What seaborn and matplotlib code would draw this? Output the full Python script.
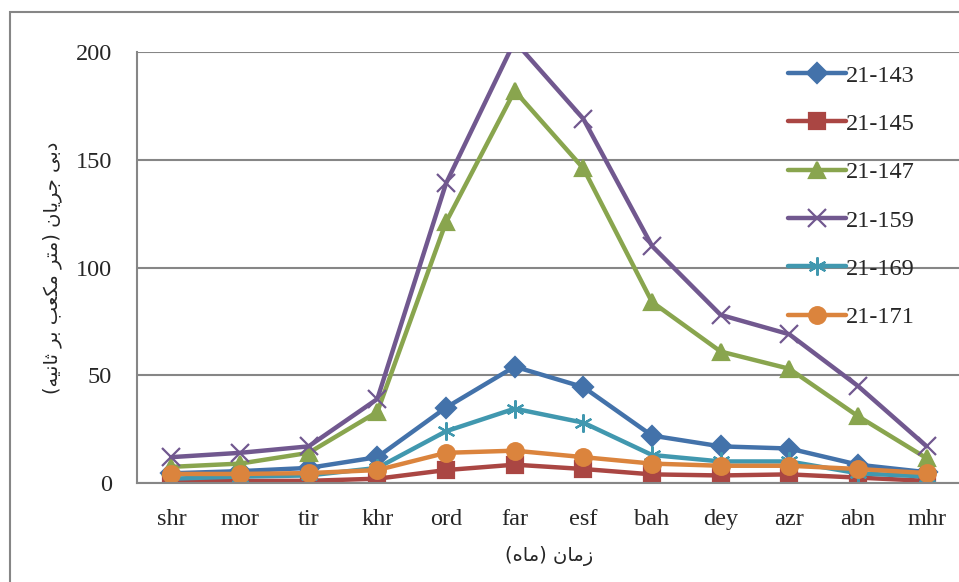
import numpy as np
import pandas as pd
import matplotlib
matplotlib.use("Agg")
import matplotlib.pyplot as plt
from matplotlib.patches import Rectangle
import seaborn as sns

# data
months = ['shr', 'mor', 'tir', 'khr', 'ord', 'far', 'esf', 'bah', 'dey', 'azr', 'abn', 'mhr']
s_143 = [4.5, 5.5, 7, 12, 35, 54, 44.5, 22, 17, 16, 8.5, 5]
s_145 = [1, 1, 1, 2, 6, 8.5, 6.5, 4, 3.5, 4, 2.5, 1]
s_147 = [7.5, 9, 14, 33, 121, 182, 146, 84, 61, 53, 31, 11.5]
s_159 = [12, 14, 17, 39, 139, 205, 169, 110, 78, 69, 45, 17]
s_169 = [2, 3, 3.5, 7, 24, 34.5, 28, 13, 10, 10, 4.5, 3]
s_171 = [4.2, 4.2, 4.6, 6, 14, 15, 12, 9, 8, 8, 6.5, 4.6]
names = ['21-143', '21-145', '21-147', '21-159', '21-169', '21-171']
ylabel_fa = 'دبی جریان (متر مکعب بر ثانیه)'
xlabel_fa = 'زمان (ماه)'

# matplotlib does no arabic shaping, so map letters to presentation forms
FORMS = {  # iso, fin, ini, med
    'ا': ('\uFE8D', '\uFE8E', None, None),
    'ب': ('\uFE8F', '\uFE90', '\uFE91', '\uFE92'),
    'ت': ('\uFE95', '\uFE96', '\uFE97', '\uFE98'),
    'ث': ('\uFE99', '\uFE9A', '\uFE9B', '\uFE9C'),
    'ج': ('\uFE9D', '\uFE9E', '\uFE9F', '\uFEA0'),
    'د': ('\uFEA9', '\uFEAA', None, None),
    'ر': ('\uFEAD', '\uFEAE', None, None),
    'ز': ('\uFEAF', '\uFEB0', None, None),
    'ع': ('\uFEC9', '\uFECA', '\uFECB', '\uFECC'),
    'م': ('\uFEE1', '\uFEE2', '\uFEE3', '\uFEE4'),
    'ن': ('\uFEE5', '\uFEE6', '\uFEE7', '\uFEE8'),
    'ه': ('\uFEE9', '\uFEEA', '\uFEEB', '\uFEEC'),
    'ی': ('\uFBFC', '\uFBFD', '\uFBFE', '\uFBFF'),
    'ک': ('\uFB8E', '\uFB8F', '\uFB90', '\uFB91'),
}


def shape_fa(text):
    out = []
    for i, ch in enumerate(text):
        if ch not in FORMS:
            out.append(ch)
            continue
        prev = text[i - 1] if i > 0 else ''
        nxt = text[i + 1] if i + 1 < len(text) else ''
        join_prev = prev in FORMS and FORMS[prev][2] is not None
        join_next = nxt in FORMS and FORMS[ch][2] is not None
        iso, fin, ini, med = FORMS[ch]
        if join_prev and join_next:
            out.append(med)
        elif join_prev:
            out.append(fin)
        elif join_next:
            out.append(ini)
        else:
            out.append(iso)
    vis = ''.join(reversed(out))
    return vis.translate(str.maketrans('()', ')('))


df = pd.DataFrame({'month': months * 6,
                   'flow': s_143 + s_145 + s_147 + s_159 + s_169 + s_171,
                   'station': np.repeat(names, len(months))})

colors = ['#4372AA', '#AA4643', '#89A54E', '#71588F', '#4198AF', '#DB843D']
markers = ['D', 's', '^', 'x', (6, 2, 0), 'o']
msizes = [10, 11, 12, 13, 13, 12]

sns.set_style('white')
plt.rcParams['font.family'] = ['Liberation Serif', 'DejaVu Sans']

fig = plt.figure(figsize=(9.59, 5.82), dpi=100)
ax = fig.add_axes([137 / 959, 99 / 582, 824 / 959, 431 / 582])

for name, c, m, ms in zip(names, colors, markers, msizes):
    d = df[df['station'] == name]
    sns.lineplot(data=d, x='month', y='flow', ax=ax, color=c, lw=3.2,
                 marker=m, markersize=ms, markeredgecolor=c, markerfacecolor=c,
                 markeredgewidth=1.6, label=name, sort=False)

ax.set_ylim(0, 200)
ax.set_xlim(-0.5, len(months) - 0.5)
ax.set_yticks([0, 50, 100, 150, 200])
ax.set_xticks(range(len(months)))
ax.set_xticklabels(months)
ax.set_xticks(np.arange(-0.5, len(months)), minor=True)
ax.tick_params(axis='x', which='major', length=0, pad=19, labelsize=17.5)
ax.tick_params(axis='x', which='minor', length=6, width=1.5, color='#868686', direction='out')
ax.tick_params(axis='y', length=6, width=1.5, color='#868686', direction='out', pad=12, labelsize=17.5)
ax.yaxis.grid(True, color='#868686', lw=1.5)
ax.set_axisbelow(True)
for side in ['top', 'right']:
    ax.spines[side].set_visible(False)
for side in ['left', 'bottom']:
    ax.spines[side].set_color('#868686')
    ax.spines[side].set_linewidth(1.5)

ax.set_xlabel(shape_fa(xlabel_fa), family='DejaVu Sans', fontsize=14, labelpad=11)
ax.set_ylabel(shape_fa(ylabel_fa), family='DejaVu Sans', fontsize=14, labelpad=10)

leg = ax.legend(loc='upper left', bbox_to_anchor=(778 / 959, 1 - 55 / 582),
                bbox_transform=fig.transFigure, frameon=False, fontsize=17.5,
                handlelength=2.4, labelspacing=1.08, handletextpad=0.0, borderaxespad=0)

# outer chart border
fig.patches.append(Rectangle((10 / 959, -0.02), 1.02, 1 - 12 / 582 + 0.02,
                             transform=fig.transFigure, fill=False,
                             edgecolor='#868686', lw=1.5))

fig.savefig('out.png', dpi=100)
